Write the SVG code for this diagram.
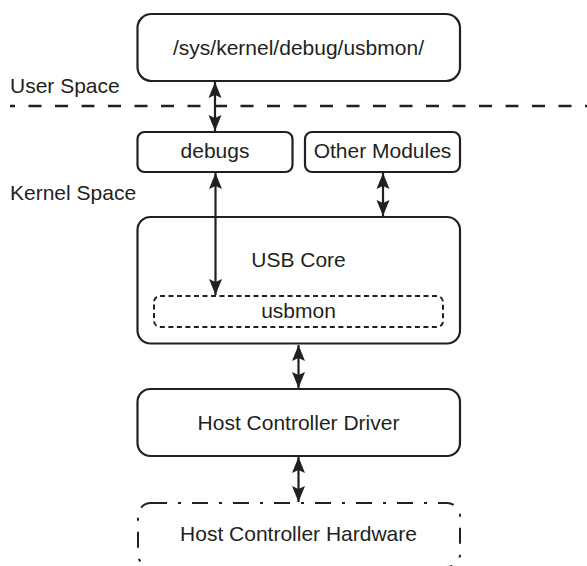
<svg xmlns="http://www.w3.org/2000/svg" width="587" height="566" viewBox="0 0 587 566">
<defs>
<style>
.box{fill:#fff;stroke:#231f20;stroke-width:2.2}
.dash{fill:none;stroke:#231f20;stroke-width:2;stroke-dasharray:5 3.5}
.dashdot{fill:none;stroke:#231f20;stroke-width:2;stroke-dasharray:16 11 3 11}
.sep{fill:none;stroke:#231f20;stroke-width:2.4;stroke-dasharray:13 13.5;stroke-dashoffset:8}
.lbl{font-family:"Liberation Sans",Arial,sans-serif;font-size:21px;fill:#231f20}
.c{text-anchor:middle}
.conn{stroke:#231f20;stroke-width:2.2;fill:none;marker-start:url(#ah);marker-end:url(#ah)}
</style>
<marker id="ah" markerUnits="userSpaceOnUse" markerWidth="18" markerHeight="14" viewBox="0 -7 18 14" refX="16" refY="0" orient="auto-start-reverse">
<path d="M0,-6.5 L16,0 L0,6.5 L3,0 Z" fill="#231f20"/>
</marker>
</defs>
<rect width="587" height="566" fill="#fff"/>
<g id="separator">
<line class="sep" x1="10" y1="106" x2="587" y2="106"/>
<text class="lbl" x="10" y="93">User Space</text>
<text class="lbl" x="10" y="200">Kernel Space</text>
</g>
<g id="node-sysfs">
<rect class="box" x="137.5" y="14" width="322.5" height="67" rx="14"/>
<text class="lbl c" x="298.5" y="55">/sys/kernel/debug/usbmon/</text>
</g>
<g id="node-debugs">
<rect class="box" x="137.5" y="132" width="155" height="40" rx="7"/>
<text class="lbl c" x="215" y="158">debugs</text>
</g>
<g id="node-other">
<rect class="box" x="305" y="132" width="155" height="40" rx="7"/>
<text class="lbl c" x="382.5" y="158">Other Modules</text>
</g>
<g id="node-usbcore">
<rect class="box" x="137.5" y="217" width="322.5" height="126.5" rx="13"/>
<text class="lbl c" x="298.5" y="267">USB Core</text>
</g>
<g id="node-usbmon">
<rect class="dash" x="154" y="296" width="289" height="31" rx="6"/>
<text class="lbl c" x="298.5" y="318">usbmon</text>
</g>
<g id="node-hcd">
<rect class="box" x="137.5" y="389" width="322.5" height="67" rx="13"/>
<text class="lbl c" x="298.5" y="430">Host Controller Driver</text>
</g>
<g id="node-hch">
<rect class="dashdot" x="138" y="503" width="322" height="64" rx="13"/>
<text class="lbl c" x="298.5" y="541">Host Controller Hardware</text>
</g>
<g id="connectors">
<line class="conn" x1="215" y1="82" x2="215" y2="131"/>
<line class="conn" x1="215.5" y1="173" x2="215.5" y2="295"/>
<line class="conn" x1="383" y1="173" x2="383" y2="216"/>
<line class="conn" x1="298.5" y1="345" x2="298.5" y2="388"/>
<line class="conn" x1="298.5" y1="457" x2="298.5" y2="502"/>
</g>
</svg>
